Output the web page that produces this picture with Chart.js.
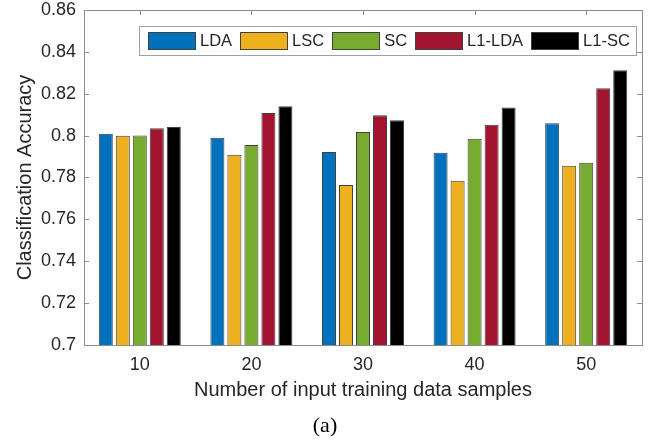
<!DOCTYPE html>
<html>
<head>
<meta charset="utf-8">
<script src="https://cdn.jsdelivr.net/npm/chart.js@4.4.0/dist/chart.umd.min.js"></script>
<style>
  html, body { margin: 0; padding: 0; background: #fff; }
  #wrap { width: 650px; height: 441px; }
</style>
</head>
<body>
<div id="wrap"><canvas id="chart" width="650" height="441"></canvas></div>
<script>
// chart data
const samples = ['10', '20', '30', '40', '50'];
const methods = ['LDA', 'LSC', 'SC', 'L1-LDA', 'L1-SC'];
const ldaAcc   = [0.8009, 0.7990, 0.7922, 0.7918, 0.8059];
const lscAcc   = [0.7999, 0.7909, 0.7764, 0.7784, 0.7856];
const scAcc    = [0.8001, 0.7955, 0.8017, 0.7985, 0.7871];
const l1ldaAcc = [0.8035, 0.8108, 0.8097, 0.8052, 0.8226];
const l1scAcc  = [0.8041, 0.8140, 0.8073, 0.8134, 0.8312];
const yMin = 0.7, yMax = 0.86, yStep = 0.02;

const colors = ['#0072BD', '#EDB120', '#77AC30', '#A2142F', '#000000'];
const seriesList = [ldaAcc, lscAcc, scAcc, l1ldaAcc, l1scAcc];
const axisColor = '#8c8c8c';
const textColor = '#262626';

// MATLAB style box, inner ticks, legend and caption
const matlabBox = {
  id: 'matlabBox',
  afterDatasetsDraw(chart) {
    const ctx = chart.ctx;
    const a = chart.chartArea;
    const xs = chart.scales.x, ys = chart.scales.y;
    ctx.save();
    ctx.strokeStyle = axisColor;
    ctx.lineWidth = 1;
    ctx.beginPath();
    ys.ticks.forEach((t, i) => {
      const y = Math.round(ys.getPixelForTick(i)) + 0.5;
      ctx.moveTo(a.left, y); ctx.lineTo(a.left + 5, y);
      ctx.moveTo(a.right, y); ctx.lineTo(a.right - 5, y);
    });
    xs.ticks.forEach((t, i) => {
      const x = Math.round(xs.getPixelForTick(i)) + 0.5;
      ctx.moveTo(x, a.top); ctx.lineTo(x, a.top + 5);
    });
    ctx.stroke();
    ctx.strokeRect(Math.round(a.left) + 0.5, Math.round(a.top) + 0.5,
      Math.round(a.right - a.left), Math.round(a.bottom - a.top));

    // legend
    ctx.font = '16.5px "Liberation Sans", Arial, sans-serif';
    const sw = 47, sh = 17, gapT = 5, gapI = 8;
    const bx = a.left + 55, by = a.top + 16, bh = 29;
    let total = 9;
    const widths = chart.data.datasets.map(d => ctx.measureText(d.label).width);
    widths.forEach((w, i) => { total += sw + gapT + w + (i < widths.length - 1 ? gapI : 0); });
    total += 6;
    ctx.fillStyle = '#fff';
    ctx.fillRect(bx, by, total, bh);
    ctx.strokeStyle = '#a0a0a0';
    ctx.strokeRect(Math.round(bx) + 0.5, Math.round(by) + 0.5, Math.round(total), bh);
    let x = bx + 9;
    const cy = by + bh / 2;
    ctx.textBaseline = 'middle';
    chart.data.datasets.forEach((d, i) => {
      ctx.fillStyle = d.backgroundColor;
      ctx.fillRect(x, cy - sh / 2, sw, sh);
      ctx.strokeStyle = '#404040';
      ctx.strokeRect(Math.round(x) + 0.5, Math.round(cy - sh / 2) + 0.5, sw, sh);
      x += sw + gapT;
      ctx.fillStyle = textColor;
      ctx.fillText(d.label, x, cy + 1);
      x += widths[i] + gapI;
    });

    // caption
    ctx.font = '22px "Liberation Serif", "Times New Roman", serif';
    ctx.textAlign = 'center';
    ctx.fillStyle = '#000';
    ctx.fillText('(a)', chart.width / 2, 426);
    ctx.restore();
  }
};

new Chart(document.getElementById('chart'), {
  type: 'bar',
  data: {
    labels: samples,
    datasets: methods.map((m, i) => ({
      label: m,
      data: seriesList[i],
      backgroundColor: colors[i],
      borderColor: '#404040',
      borderWidth: 1,
      categoryPercentage: 0.762,
      barPercentage: 0.824
    }))
  },
  options: {
    responsive: false,
    animation: false,
    layout: { padding: { left: 0, top: 10, right: 8, bottom: 34 } },
    plugins: { legend: { display: false }, tooltip: { enabled: false } },
    scales: {
      x: {
        grid: { display: false, drawTicks: false },
        border: { display: false },
        ticks: { color: textColor, padding: 9, font: { size: 18, family: '"Liberation Sans", Arial, sans-serif' } },
        title: {
          display: true,
          text: 'Number of input training data samples',
          color: textColor,
          padding: { top: 0, bottom: 5 },
          font: { size: 20, family: '"Liberation Sans", Arial, sans-serif' }
        },
        afterFit(scale) {
          scale.height = 62;
          scale.paddingLeft = 0; scale.paddingRight = 0;
        }
      },
      y: {
        min: yMin,
        max: yMax,
        grid: { display: false, drawTicks: false },
        border: { display: false },
        ticks: {
          stepSize: yStep,
          color: textColor,
          padding: 8,
          font: { size: 18, family: '"Liberation Sans", Arial, sans-serif' },
          callback: v => String(parseFloat(v.toFixed(2)))
        },
        title: {
          display: true,
          text: 'Classification Accuracy',
          color: textColor,
          padding: { top: 13, bottom: 0 },
          font: { size: 20, family: '"Liberation Sans", Arial, sans-serif' }
        },
        afterFit(scale) {
          scale.width = 84;
          scale.paddingTop = 0; scale.paddingBottom = 0;
        }
      }
    }
  },
  plugins: [matlabBox]
});
</script>
</body>
</html>
